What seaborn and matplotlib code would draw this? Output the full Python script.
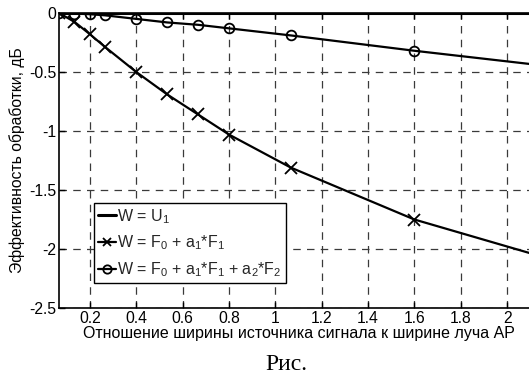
import matplotlib
matplotlib.use("Agg")
import matplotlib.pyplot as plt
import seaborn as sns
import pandas as pd
import numpy as np

# Data
x_vals = [1/15, 2/15, 3/15, 4/15, 6/15, 8/15, 10/15, 12/15, 16/15, 24/15, 32/15]
y_u1 = [0, 0, 0, 0, 0, 0, 0, 0, 0, 0, 0]
y_f1 = [0.0, -0.075, -0.18, -0.29, -0.50, -0.69, -0.86, -1.03, -1.31, -1.75, -2.055]
y_f2 = [0.0, -0.005, -0.01, -0.02, -0.05, -0.08, -0.10, -0.13, -0.19, -0.32, -0.44]
labels = ["W = U$_1$", "W = F$_0$ + a$_1$*F$_1$", "W = F$_0$ + a$_1$*F$_1$ + a$_2$*F$_2$"]
x_ticks = [0.2, 0.4, 0.6, 0.8, 1.0, 1.2, 1.4, 1.6, 1.8, 2.0]
x_ticklabels = ["0.2", "0.4", "0.6", "0.8", "1", "1.2", "1.4", "1.6", "1.8", "2"]
y_ticks = [0, -0.5, -1, -1.5, -2, -2.5]
y_ticklabels = ["0", "-0.5", "-1", "-1.5", "-2", "-2.5"]
xlabel = "Отношение ширины источника сигнала к ширине луча АР"
ylabel = "Эффективность обработки, дБ"
caption = "Рис."

sns.set_theme(style="white")
plt.rcParams['font.family'] = ['Liberation Sans', 'DejaVu Sans']
plt.rcParams['mathtext.fontset'] = 'custom'
plt.rcParams['mathtext.rm'] = 'Liberation Sans'
plt.rcParams['mathtext.it'] = 'Liberation Sans'

fig = plt.figure(figsize=(5.29, 3.78), dpi=100)
ax = fig.add_axes([59/529, 1 - 308/378, 479/529, 295/378])

df = pd.DataFrame({
    "x": x_vals * 3,
    "y": y_u1 + y_f1 + y_f2,
    "s": [labels[0]] * len(x_vals) + [labels[1]] * len(x_vals) + [labels[2]] * len(x_vals),
})

sns.lineplot(data=df[df.s == labels[0]], x="x", y="y", ax=ax, color="black", lw=2.2, label=labels[0])
sns.lineplot(data=df[df.s == labels[1]], x="x", y="y", ax=ax, color="black", lw=1.6,
             marker="x", markersize=8, markeredgewidth=1.3, markeredgecolor="black", label=labels[1])
sns.lineplot(data=df[df.s == labels[2]], x="x", y="y", ax=ax, color="black", lw=1.6,
             marker="o", markersize=7, markerfacecolor="none", markeredgewidth=1.3,
             markeredgecolor="black", label=labels[2])

ax.set_xlim(1/15, 32/15)
ax.set_ylim(-2.5, 0)
ax.set_xticks(x_ticks)
ax.set_xticklabels(x_ticklabels, fontsize=11.3)
ax.set_yticks(y_ticks)
ax.set_yticklabels(y_ticklabels, fontsize=11.3)
ax.tick_params(direction="in", length=4, width=1, top=True, right=True, bottom=True, left=True,
               colors="black", pad=2)
ax.grid(True, color="#3a3a3a", linestyle=(0, (6, 5)), linewidth=0.9)
for sp in ax.spines.values():
    sp.set_color("black")
    sp.set_linewidth(1.2)
    sp.set_visible(True)

ax.set_xlabel(xlabel, fontsize=11.5, labelpad=0, color="black")
ax.set_ylabel(ylabel, fontsize=11.3, labelpad=3, color="black")

leg = ax.legend(loc="upper left", bbox_to_anchor=((94-59)/479, (308-203)/295), borderaxespad=0,
                fontsize=11.5, handlelength=1.1, handletextpad=0.1, borderpad=0.25,
                labelspacing=0.5, frameon=True, fancybox=False, framealpha=1)
leg.get_frame().set_edgecolor("black")
leg.get_frame().set_linewidth(1.0)
for h in leg.legend_handles:
    h.set_markersize(6)

fig.text(286/529, 1 - 365/378, caption, family="Liberation Serif", fontsize=17,
         ha="center", va="center", color="black")

fig.savefig("out.png", dpi=100)
